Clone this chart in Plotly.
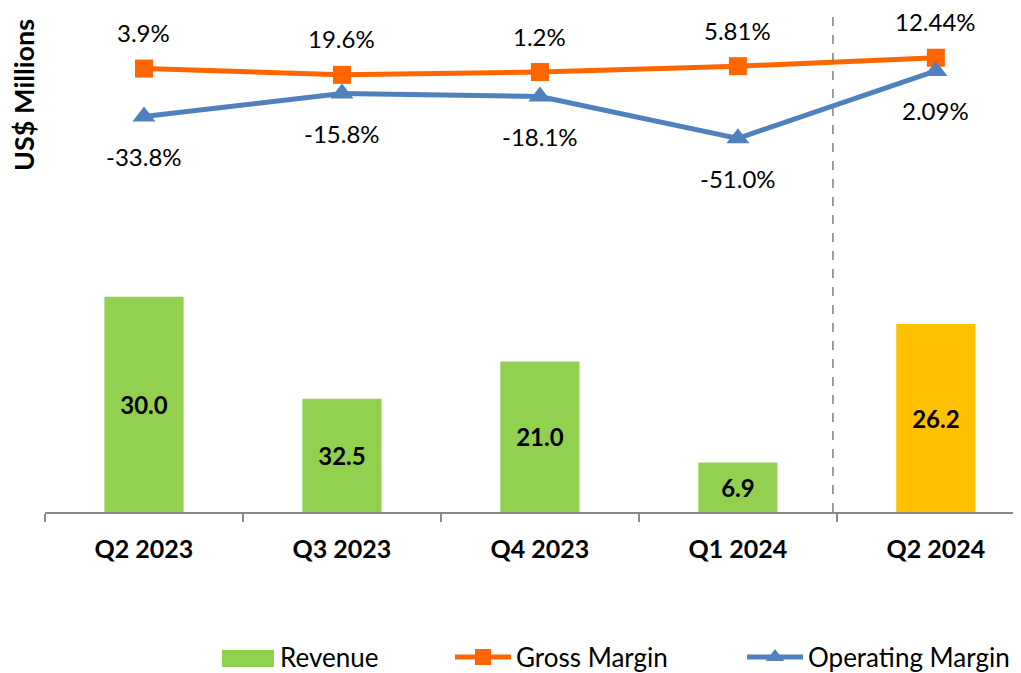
import plotly.graph_objects as go

categories = ["Q2 2023", "Q3 2023", "Q4 2023", "Q1 2024", "Q2 2024"]
revenue = [30.0, 15.8, 21.0, 6.9, 26.2]
revenue_labels = ["30.0", "32.5", "21.0", "6.9", "26.2"]
revenue_colors = ["#92D050", "#92D050", "#92D050", "#92D050", "#FFC000"]
gross_margin = [3.9, -1.0, 1.2, 5.81, 12.44]
gross_labels = ["3.9%", "19.6%", "1.2%", "5.81%", "12.44%"]
operating_margin = [-33.8, -15.8, -18.1, -51.0, 2.09]
operating_labels = ["-33.8%", "-15.8%", "-18.1%", "-51.0%", "2.09%"]

FONT = "Lato, 'Open Sans', sans-serif"
OFF = 8  # page body margin
W, H = 1021 - OFF, 673 - OFF
L = 45 - OFF
T = 10 - OFF
B = H - (512 - OFF)
PW, PH = W - L, H - T - B


def px_x(p):
    # p: pixel in screenshot coordinates
    return (p - OFF - L) / PW


def px_y(p):
    return (H - B - (p - OFF)) / PH


fig = go.Figure()
fig.add_trace(go.Bar(
    x=categories, y=revenue, name="Revenue", showlegend=False,
    marker=dict(color=revenue_colors, line=dict(width=0)),
    width=0.4,
    text=revenue_labels, textposition="inside", insidetextanchor="middle",
    textfont=dict(size=24, color="black", family=FONT, weight="bold"),
    constraintext="none",
))
fig.add_trace(go.Scatter(
    x=categories, y=gross_margin, name="Gross Margin", yaxis="y2", legend="legend",
    mode="lines+markers",
    line=dict(color="#FF6600", width=5),
    marker=dict(symbol="square", size=18, color="#FF6600"),
))
fig.add_trace(go.Scatter(
    x=categories, y=operating_margin, name="Operating Margin", yaxis="y2", legend="legend2",
    mode="lines+markers",
    line=dict(color="#4F81BD", width=5),
    marker=dict(symbol="triangle-up", size=20, color="#4F81BD"),
))

LABEL_FONT = dict(size=24, color="black", family=FONT)
annotations = []
for c, v, t in zip(categories, gross_margin, gross_labels):
    annotations.append(dict(x=c, y=v, xref="x", yref="y2", text=t, showarrow=False,
                            yshift=36, font=LABEL_FONT))
for c, v, t in zip(categories, operating_margin, operating_labels):
    annotations.append(dict(x=c, y=v, xref="x", yref="y2", text=t, showarrow=False,
                            yshift=-40, font=LABEL_FONT))
annotations.append(dict(x=px_x(24), y=px_y(95), xref="paper", yref="paper",
                        text="<b>US$ Millions</b>", showarrow=False, textangle=-90,
                        xanchor="center", yanchor="middle",
                        font=dict(size=27, color="black", family=FONT)))
# Revenue legend entry (drawn manually for the wide swatch)
annotations.append(dict(x=px_x(278), y=px_y(657), xref="paper", yref="paper",
                        text="Revenue", showarrow=False, xanchor="left", yanchor="middle",
                        font=dict(size=26, color="black", family=FONT)))

legend_common = dict(orientation="h", yanchor="middle", y=px_y(657), xanchor="left",
                     font=dict(size=26, family=FONT, color="black"), itemwidth=56,
                     bgcolor="rgba(0,0,0,0)", borderwidth=0)

fig.update_layout(
    width=W, height=H,
    margin=dict(l=L, r=0, t=T, b=B, autoexpand=False),
    plot_bgcolor="white", paper_bgcolor="white",
    font=dict(family=FONT, color="black"),
    xaxis=dict(
        type="category", range=[-0.5, 4.43], automargin=False,
        showline=True, linecolor="#898989", linewidth=2,
        ticks="outside", tickson="boundaries", ticklen=8, tickcolor="#898989", tickwidth=2,
        tickfont=dict(size=25, family=FONT, weight="bold", color="black"),
        ticklabelstandoff=14,
        showgrid=False, zeroline=False,
    ),
    yaxis=dict(range=[0, 70], showticklabels=False, showgrid=False, zeroline=False,
               showline=False, ticks="", automargin=False),
    yaxis2=dict(range=[-345, 50], overlaying="y", side="right", showticklabels=False,
                showgrid=False, zeroline=False, showline=False, ticks="", automargin=False),
    showlegend=True,
    legend=dict(x=px_x(450), **legend_common),
    legend2=dict(x=px_x(742), **legend_common),
    annotations=annotations,
    shapes=[
        dict(type="line", xref="x", yref="y domain", x0=3.48, x1=3.48, y0=0, y1=1,
             line=dict(color="#808080", width=1.5, dash="dash")),
        dict(type="rect", xref="paper", yref="paper", x0=px_x(222), x1=px_x(274),
             y0=px_y(667), y1=px_y(650), fillcolor="#92D050", line=dict(width=0)),
    ],
)

fig.write_html("out.html")
